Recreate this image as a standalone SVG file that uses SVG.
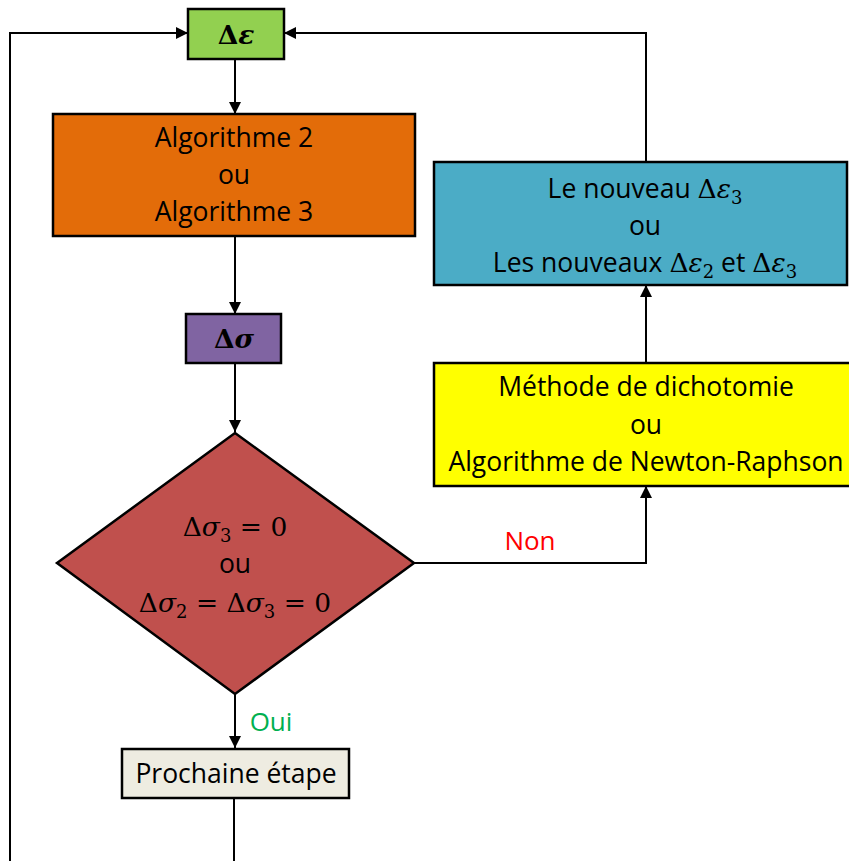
<svg xmlns="http://www.w3.org/2000/svg" width="849" height="861" viewBox="0 0 849 861">
<style>
.box{stroke:#000;stroke-width:2.5}
.t{font-family:"Open Sans","Liberation Sans",sans-serif;font-size:26.5px;fill:#000;text-anchor:middle}
.m{font-family:"DejaVu Serif","Liberation Serif",serif;font-size:26.5px;fill:#000}
.mi{font-style:italic}
.c{fill:none;stroke:#000;stroke-width:2}
.lbl{font-family:"Open Sans","Liberation Sans",sans-serif;font-size:26px;text-anchor:middle}
</style>
<defs>
<marker id="ar" viewBox="0 0 10 10" refX="10" refY="5" markerWidth="12" markerHeight="12" markerUnits="userSpaceOnUse" orient="auto">
<path d="M0,0 L10,5 L0,10 Z" fill="#000"/>
</marker>
</defs>
<rect width="849" height="861" fill="#fff"/>
<g id="connectors">
<path class="c" d="M235,59 V114" marker-end="url(#ar)"/>
<path class="c" d="M235,236 V314" marker-end="url(#ar)"/>
<path class="c" d="M235,363 V432" marker-end="url(#ar)"/>
<path class="c" d="M235,694 V748" marker-end="url(#ar)"/>
<path class="c" d="M234,798 V861"/>
<path class="c" d="M10,861 V33 H188" marker-end="url(#ar)"/>
<path class="c" d="M414,563 H646 V486" marker-end="url(#ar)"/>
<path class="c" d="M646,363 V285" marker-end="url(#ar)"/>
<path class="c" d="M646,162 V33 H284" marker-end="url(#ar)"/>
<text x="530" y="550" class="lbl" fill="#FF0000">Non</text>
<text x="271" y="731" class="lbl" fill="#00B050">Oui</text>
</g>
<g id="delta-epsilon">
<rect class="box" x="188" y="9" width="96" height="50" fill="#92D050"/>
<text x="236" y="44" class="m" text-anchor="middle" font-weight="bold">Δ<tspan class="mi">ε</tspan></text>
</g>
<g id="algorithme">
<rect class="box" x="53" y="114" width="362" height="122" fill="#E36C09"/>
<text x="234" y="147" class="t">Algorithme 2</text>
<text x="234" y="184" class="t">ou</text>
<text x="234" y="221" class="t">Algorithme 3</text>
</g>
<g id="delta-sigma">
<rect class="box" x="186" y="314" width="95" height="49" fill="#8064A2"/>
<text x="234" y="348" class="m" text-anchor="middle" font-weight="bold">Δ<tspan class="mi">σ</tspan></text>
</g>
<g id="condition">
<polygon class="box" points="235,433 414,563 235,694 57,563" fill="#C0504D" stroke-width="2"/>
<text x="235" y="536" class="m" text-anchor="middle">Δ<tspan class="mi">σ</tspan><tspan font-size="18" dy="6">3</tspan><tspan dy="-6"> = 0</tspan></text>
<text x="235" y="573" class="t">ou</text>
<text x="235" y="612" class="m" text-anchor="middle">Δ<tspan class="mi">σ</tspan><tspan font-size="18" dy="6">2</tspan><tspan dy="-6"> = Δ</tspan><tspan class="mi">σ</tspan><tspan font-size="18" dy="6">3</tspan><tspan dy="-6"> = 0</tspan></text>
</g>
<g id="prochaine">
<rect class="box" x="122" y="749" width="227" height="49" fill="#EEECE1"/>
<text x="236" y="783" class="t">Prochaine étape</text>
</g>
<g id="methode">
<rect class="box" x="434" y="363" width="420" height="123" fill="#FFFF00"/>
<text x="646" y="396" class="t">Méthode de dichotomie</text>
<text x="646" y="434" class="t">ou</text>
<text x="646" y="471" class="t">Algorithme de Newton-Raphson</text>
</g>
<g id="nouveau">
<rect class="box" x="434" y="162" width="413" height="123" fill="#4BACC6"/>
<text x="645" y="198" class="t">Le nouveau <tspan class="m">Δ<tspan class="mi">ε</tspan><tspan font-size="18" dy="6">3</tspan></tspan></text>
<text x="645" y="235" class="t">ou</text>
<text x="645" y="272" class="t">Les nouveaux <tspan class="m">Δ<tspan class="mi">ε</tspan><tspan font-size="18" dy="6">2</tspan></tspan><tspan dy="-6"> et </tspan><tspan class="m">Δ<tspan class="mi">ε</tspan><tspan font-size="18" dy="6">3</tspan></tspan></text>
</g>
</svg>
